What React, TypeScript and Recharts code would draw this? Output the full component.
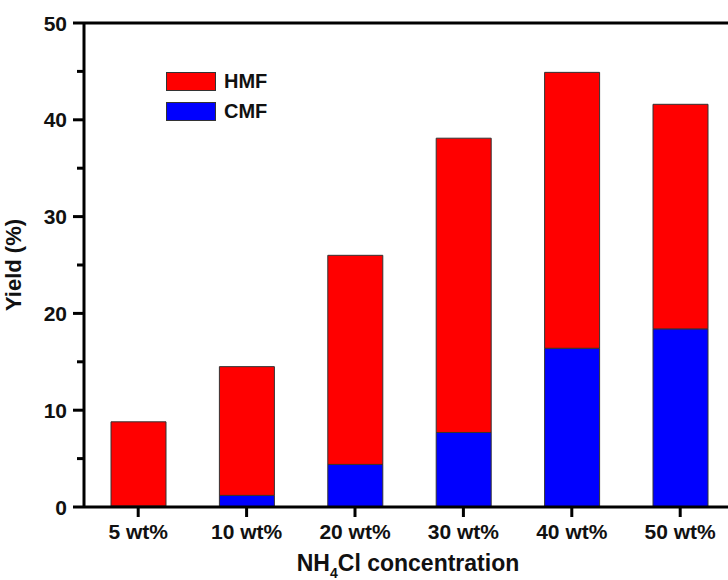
import React from 'react';
import { BarChart, Bar, XAxis, YAxis, ReferenceLine, Legend } from 'recharts';

const categories = ['5 wt%', '10 wt%', '20 wt%', '30 wt%', '40 wt%', '50 wt%'];
const cmfValues = [0.1, 1.2, 4.4, 7.7, 16.4, 18.4];
const hmfValues = [8.7, 13.3, 21.6, 30.4, 28.5, 23.2];
const yTicks = [0, 5, 10, 15, 20, 25, 30, 35, 40, 45, 50];

const data = categories.map((c, i) => ({ name: c, CMF: cmfValues[i], HMF: hmfValues[i] }));

const FONT = '"Liberation Sans", Arial, sans-serif';

const YTick = (props: any) => {
  const { x, y, payload } = props;
  const v = payload.value;
  const major = v % 10 === 0;
  return (
    <g>
      <line x1={x - (major ? 11 : 7)} x2={x} y1={y} y2={y} stroke="#000" strokeWidth={3} />
      {major && (
        <text x={x - 17} y={y + 7.5} textAnchor="end" fontFamily={FONT} fontWeight="bold" fontSize={21} fill="#111">
          {v}
        </text>
      )}
    </g>
  );
};

const XTick = (props: any) => {
  const { x, y, payload } = props;
  return (
    <g>
      <line x1={x} x2={x} y1={y} y2={y + 10} stroke="#000" strokeWidth={3} />
      <text x={x} y={y + 32} textAnchor="middle" fontFamily={FONT} fontWeight="bold" fontSize={21} fill="#111">
        {payload.value}
      </text>
    </g>
  );
};

const LegendContent = (props: any) => {
  const items = [...(props.payload || [])].reverse();
  return (
    <div>
      {items.map((it: any) => (
        <div key={it.value} style={{ display: 'flex', alignItems: 'center', height: 29.5 }}>
          <div style={{ width: 48, height: 17, background: it.color, border: '1px solid #333' }} />
          <span style={{ marginLeft: 8, fontFamily: FONT, fontWeight: 'bold', fontSize: 20, color: '#111' }}>{it.value}</span>
        </div>
      ))}
    </div>
  );
};

export default function App() {
  return (
    <div style={{ position: 'absolute', left: 0, top: 0, width: 728, height: 580, overflow: 'hidden', background: '#fff' }}>
      <BarChart width={745} height={580} data={data} margin={{ top: 23, right: 10.6, bottom: 0, left: 0 }} barSize={55}>
        <XAxis
          dataKey="name"
          height={73}
          tickSize={0}
          tickMargin={0}
          tick={<XTick />}
          axisLine={{ stroke: '#000', strokeWidth: 3 }}
          tickLine={false}
          interval={0}
          label={{
            content: () => (
              <text x={408} y={571} textAnchor="middle" fontFamily={FONT} fontWeight="bold" fontSize={23} fill="#111">
                <tspan>NH</tspan>
                <tspan fontSize={14} dy={7}>4</tspan>
                <tspan dy={-7}>Cl concentration</tspan>
              </text>
            ),
          }}
        />
        <YAxis
          width={84}
          domain={[0, 50]}
          ticks={yTicks}
          interval={0}
          tickSize={0}
          tickMargin={0}
          tick={<YTick />}
          tickLine={false}
          axisLine={{ stroke: '#000', strokeWidth: 3 }}
          label={{
            content: () => (
              <text x={21} y={265} transform="rotate(-90 21 265)" textAnchor="middle" fontFamily={FONT} fontWeight="bold" fontSize={22} fill="#111">
                Yield (%)
              </text>
            ),
          }}
        />
        <ReferenceLine y={50} stroke="#000" strokeWidth={3} />
        <Legend
          layout="vertical"
          align="center"
          verticalAlign="middle"
          content={<LegendContent />}
          wrapperStyle={{ left: 166, top: 67, width: 'auto' }}
        />
        <Bar dataKey="CMF" stackId="a" fill="#0000FF" stroke="#333" strokeWidth={1} isAnimationActive={false} />
        <Bar dataKey="HMF" stackId="a" fill="#FF0000" stroke="#333" strokeWidth={1} isAnimationActive={false} />
      </BarChart>
    </div>
  );
}
